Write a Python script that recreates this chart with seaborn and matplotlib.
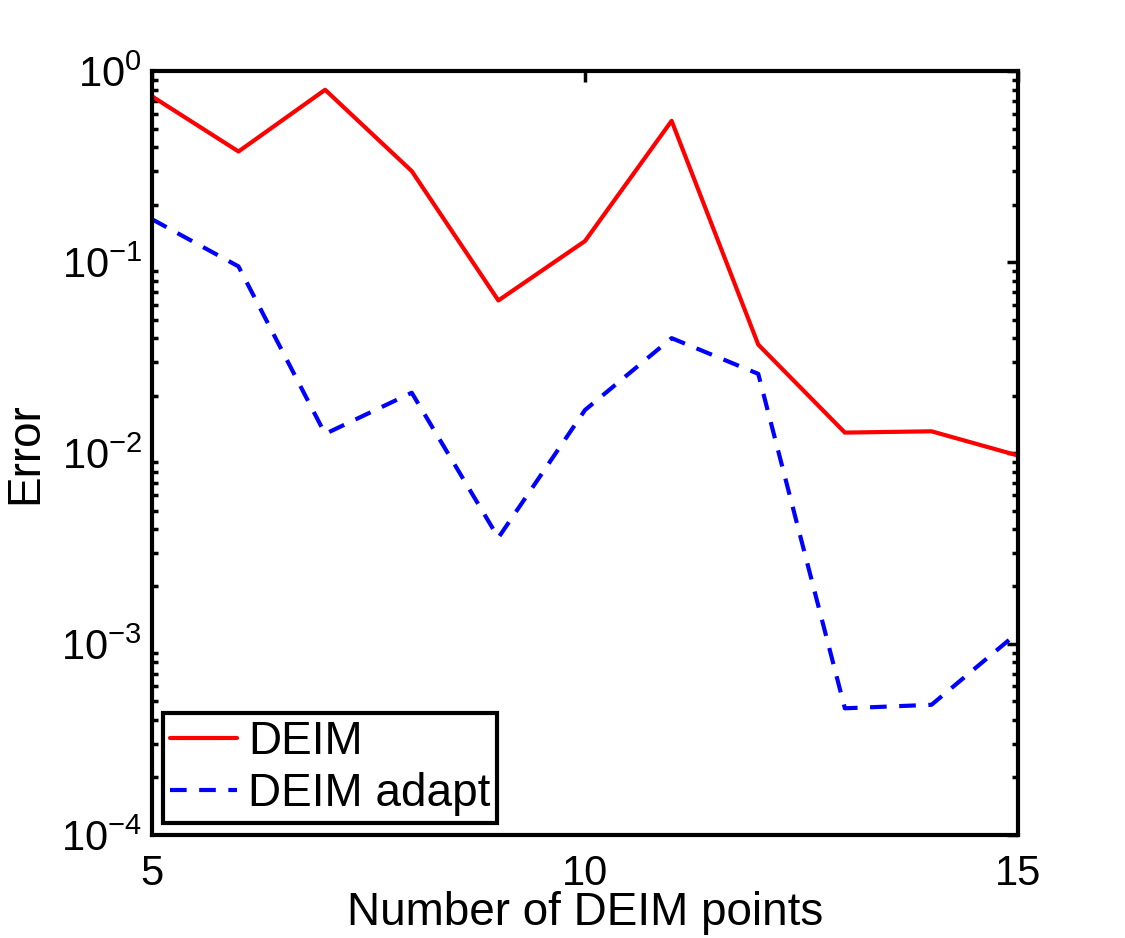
import numpy as np
import pandas as pd
import matplotlib
matplotlib.use("Agg")
import matplotlib.pyplot as plt
import seaborn as sns
from matplotlib.ticker import LogLocator, FixedLocator

# Data
n_points = [5, 6, 7, 8, 9, 10, 11, 12, 13, 14, 15]
deim = [0.74, 0.38, 0.80, 0.30, 0.063, 0.129, 0.55, 0.037, 0.0128, 0.0130, 0.0097]
deim_adapt = [0.168, 0.095, 0.0126, 0.0207, 0.0036, 0.0168, 0.040, 0.026, 0.00046, 0.00048, 0.00115]
series_names = ["DEIM", "DEIM adapt"]
x_ticks = [5, 10, 15]

sns.set_style("white")
plt.rcParams['font.family'] = ['Liberation Sans', 'DejaVu Sans']
plt.rcParams['mathtext.fontset'] = 'custom'
plt.rcParams['mathtext.rm'] = 'Liberation Sans'
plt.rcParams['mathtext.it'] = 'Liberation Sans:italic'
plt.rcParams['mathtext.bf'] = 'Liberation Sans:bold'
plt.rcParams['text.color'] = 'black'
plt.rcParams['axes.labelcolor'] = 'black'
plt.rcParams['xtick.color'] = 'black'
plt.rcParams['ytick.color'] = 'black'

FS = 33
TFS = 30

df = pd.DataFrame({
    "n": n_points * 2,
    "err": deim + deim_adapt,
    "method": [series_names[0]] * len(n_points) + [series_names[1]] * len(n_points),
})

fig = plt.figure(figsize=(11.25, 9.38), dpi=100)
ax = fig.add_axes([0.135, 0.110, 0.770, 0.814])

sns.lineplot(data=df[df.method == series_names[0]], x="n", y="err", ax=ax,
             color="#ff0000", lw=3, label=series_names[0])
sns.lineplot(data=df[df.method == series_names[1]], x="n", y="err", ax=ax,
             color="#0000ff", lw=3, label=series_names[1])
ax.lines[1].set_dashes([4, 3])

ax.set_yscale("log")
ax.set_xlim(5, 15)
ax.set_ylim(1e-4, 1e0)
ax.xaxis.set_major_locator(FixedLocator(x_ticks))
ax.yaxis.set_major_locator(LogLocator(base=10, numticks=10))
ax.yaxis.set_minor_locator(LogLocator(base=10, subs=np.arange(2, 10), numticks=20))

ax.tick_params(axis="both", which="major", direction="in", length=8, width=2.5,
               top=True, right=True, labelsize=TFS, colors="black")
ax.tick_params(axis="x", which="major", pad=14)
ax.tick_params(axis="y", which="major", pad=7)
ax.tick_params(axis="y", which="minor", direction="in", length=4, width=2.5,
               left=True, right=True, colors="black")
for s in ax.spines.values():
    s.set_linewidth(3)
    s.set_color("black")

ax.set_xlabel("Number of DEIM points", fontsize=FS, labelpad=-2, color="black")
ax.set_ylabel("Error", fontsize=FS, labelpad=10, color="black")

leg = ax.legend(loc="lower left", fontsize=FS, frameon=True, fancybox=False,
                borderpad=0.15, handlelength=1.45, handletextpad=0.25,
                labelspacing=0.18, borderaxespad=0.25)
leg.get_frame().set_edgecolor("black")
leg.get_frame().set_linewidth(3)
leg.get_frame().set_alpha(1)
for t in leg.get_texts():
    t.set_color("black")

fig.savefig("out.png", dpi=100)
